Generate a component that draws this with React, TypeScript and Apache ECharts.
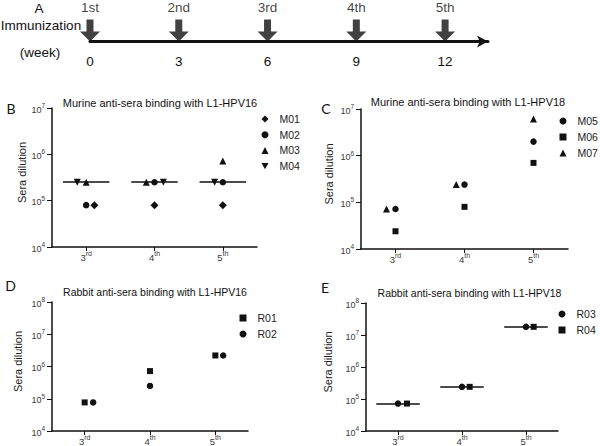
import React, { useEffect, useRef } from 'react';
import * as echarts from 'echarts';

// ---------- Panel A: immunization schedule ----------
const doses = ['1st', '2nd', '3rd', '4th', '5th'];
const weeks = [0, 3, 6, 9, 12];

// ---------- Boost categories (x axis of B-E) ----------
const boostBase = ['3', '4', '5'];
const boostSup = ['rd', 'th', 'th'];

// ---------- y-axis decades ----------
const decadesMurine = [1e4, 1e5, 1e6, 1e7];
const decadesRabbit = [1e4, 1e5, 1e6, 1e7, 1e8];

// ---------- Panel B: Murine anti-sera with L1-HPV16 ----------
const m01 = [8e4, 8e4, 8e4];
const m02 = [8e4, 2.5e5, 2.5e5];
const m03 = [2.5e5, 2.5e5, 7.2e5];
const m04 = [2.5e5, 2.5e5, 2.5e5];
const jitterM01 = [0.12, 0, 0];
const jitterM02 = [0, 0, 0];
const jitterM03 = [0, -0.12, 0];
const jitterM04 = [-0.13, 0.13, -0.12];
const medianB = [2.5e5, 2.5e5, 2.5e5];

// ---------- Panel C: Murine anti-sera with L1-HPV18 ----------
const m05 = [7.2e4, 2.4e5, 2.0e6];
const m06 = [2.4e4, 8e4, 7e5];
const m07 = [7.2e4, 2.4e5, 6.1e6];
const jitterM05 = [0, 0, 0];
const jitterM06 = [0, 0, 0];
const jitterM07 = [-0.13, -0.12, 0];

// ---------- Panel D: Rabbit anti-sera with L1-HPV16 ----------
const r01 = [7.7e4, 7.2e5, 2.2e6];
const r02 = [7.7e4, 2.5e5, 2.2e6];
const jitterR01 = [0, 0, 0];
const jitterR02 = [0.13, 0, 0.12];

// ---------- Panel E: Rabbit anti-sera with L1-HPV18 ----------
const r03 = [7.2e4, 2.4e5, 1.8e7];
const r04 = [7.2e4, 2.4e5, 1.8e7];
const jitterR03 = [0, 0, 0];
const jitterR04 = [0.14, 0.12, 0.12];
const medianE = [7.2e4, 2.4e5, 1.8e7];

const FONT = '"Liberation Sans", Arial, Helvetica, sans-serif';
const INK = '#111';
const GREY = '#3a3a3a';

const DOWN_TRI = 'path://M0,0 L10,0 L5,9 Z';
const ARROW = 'path://M6.5,0 L13.5,0 L13.5,12 L20,12 L10,22 L0,12 L6.5,12 Z';

type Def = { name: string; values: number[]; jitter: number[]; symbol: string; size: number };

const panelB: Def[] = [
  { name: 'M01', values: m01, jitter: jitterM01, symbol: 'diamond', size: 8 },
  { name: 'M02', values: m02, jitter: jitterM02, symbol: 'circle', size: 6.5 },
  { name: 'M03', values: m03, jitter: jitterM03, symbol: 'triangle', size: 7 },
  { name: 'M04', values: m04, jitter: jitterM04, symbol: DOWN_TRI, size: 7 },
];
const panelC: Def[] = [
  { name: 'M05', values: m05, jitter: jitterM05, symbol: 'circle', size: 6.5 },
  { name: 'M06', values: m06, jitter: jitterM06, symbol: 'rect', size: 6 },
  { name: 'M07', values: m07, jitter: jitterM07, symbol: 'triangle', size: 7 },
];
const panelD: Def[] = [
  { name: 'R01', values: r01, jitter: jitterR01, symbol: 'rect', size: 6 },
  { name: 'R02', values: r02, jitter: jitterR02, symbol: 'circle', size: 6.5 },
];
const panelE: Def[] = [
  { name: 'R03', values: r03, jitter: jitterR03, symbol: 'circle', size: 6.5 },
  { name: 'R04', values: r04, jitter: jitterR04, symbol: 'rect', size: 6 },
];

function scatterSeries(defs: Def[], axis: number, median?: number[]) {
  return defs.map((d, k) => {
    const s: any = {
      type: 'scatter',
      name: d.name,
      xAxisIndex: axis,
      yAxisIndex: axis,
      symbol: d.symbol,
      symbolSize: d.size,
      itemStyle: { color: INK, opacity: 1 },
      data: d.values.map((v, i) => [i + d.jitter[i], v]),
      z: 3,
    };
    if (k === 0 && median) {
      s.markLine = {
        silent: true,
        symbol: 'none',
        label: { show: false },
        lineStyle: { color: INK, width: 1.5, type: 'solid' },
        data: median.map((md, i) => [{ coord: [i - 0.34, md] }, { coord: [i + 0.34, md] }]),
      };
    }
    return s;
  });
}

const yRich = {
  b: { fontSize: 9, lineHeight: 12, color: GREY, fontFamily: FONT, verticalAlign: 'bottom' },
  s: { fontSize: 6.5, lineHeight: 7, color: GREY, fontFamily: FONT, verticalAlign: 'top' },
};
const xRich = {
  b: { fontSize: 9.5, lineHeight: 12, color: GREY, fontFamily: FONT, verticalAlign: 'bottom' },
  s: { fontSize: 7, lineHeight: 8, color: GREY, fontFamily: FONT, verticalAlign: 'top' },
};

function xAxisFor(grid: number) {
  return {
    type: 'value',
    gridIndex: grid,
    position: 'bottom',
    min: -0.5,
    max: 2.5,
    splitLine: { show: false },
    axisLine: { show: true, onZero: false, lineStyle: { color: INK, width: 1.5 } },
    axisTick: { show: true, customValues: [0, 1, 2], length: 4, lineStyle: { color: INK, width: 1 } },
    axisLabel: {
      customValues: [0, 1, 2],
      margin: 3,
      color: GREY,
      formatter: (v: number) => {
        const i = Math.round(v);
        return `{b|${boostBase[i]}}{s|${boostSup[i]}}`;
      },
      rich: xRich,
    },
  };
}

function yAxisFor(grid: number, decades: number[], nameGap: number) {
  return {
    type: 'log',
    logBase: 10,
    gridIndex: grid,
    position: 'left',
    min: decades[0],
    max: decades[decades.length - 1],
    name: 'Sera dilution',
    nameLocation: 'middle',
    nameGap,
    nameTextStyle: { fontSize: 11, color: '#222', fontFamily: FONT, padding: [0, 0, 0, 10] },
    splitLine: { show: false },
    minorTick: { show: false },
    axisLine: { show: true, onZero: false, lineStyle: { color: INK, width: 1.5 } },
    axisTick: { show: true, customValues: decades, length: 5, lineStyle: { color: INK, width: 1 } },
    axisLabel: {
      customValues: decades,
      margin: 7,
      color: GREY,
      formatter: (v: number) => `{b|10}{s|${Math.round(Math.log10(v))}}`,
      rich: yRich,
    },
  };
}

function legendFor(defs: Def[], left: number, top: number, gap: number) {
  return {
    data: defs.map((d) => d.name),
    orient: 'vertical',
    left,
    top,
    padding: 0,
    itemWidth: 7,
    itemHeight: 7,
    itemGap: gap,
    selectedMode: false,
    textStyle: { fontSize: 10.5, color: '#222', fontFamily: FONT, lineHeight: 12, padding: [0, 0, 0, 6] },
  };
}

function text(x: number, y: number, t: string, size: number, extra: any = {}) {
  return {
    type: 'text',
    x,
    y,
    silent: true,
    style: {
      text: t,
      fontSize: size,
      fontFamily: FONT,
      fill: '#111',
      align: 'center',
      verticalAlign: 'middle',
      ...extra,
    },
  };
}

const option: any = {
  animation: false,
  backgroundColor: '#fff',
  textStyle: { fontFamily: FONT },
  grid: [
    { left: 90, top: 0, width: 398, height: 41.5 },
    { left: 52, top: 108, width: 205, height: 139 },
    { left: 361, top: 109, width: 207, height: 140 },
    { left: 52, top: 302, width: 196, height: 131 },
    { left: 366, top: 303, width: 192, height: 130 },
  ],
  xAxis: [
    {
      type: 'value',
      gridIndex: 0,
      min: 0,
      max: 13.45,
      splitLine: { show: false },
      axisTick: { show: false },
      axisLine: {
        show: true,
        symbol: ['none', 'arrow'],
        symbolSize: [9, 11],
        lineStyle: { color: INK, width: 3 },
      },
      axisLabel: { customValues: weeks, margin: 13, fontSize: 13.5, color: INK, fontFamily: FONT },
    },
    xAxisFor(1),
    xAxisFor(2),
    xAxisFor(3),
    xAxisFor(4),
  ],
  yAxis: [
    { type: 'value', gridIndex: 0, min: 0, max: 1, show: false },
    yAxisFor(1, decadesMurine, 25),
    yAxisFor(2, decadesMurine, 27),
    yAxisFor(3, decadesRabbit, 29),
    yAxisFor(4, decadesRabbit, 33),
  ],
  legend: [
    legendFor(panelB, 261.5, 113, 3.7),
    legendFor(panelC, 559.5, 115, 4),
    legendFor(panelD, 239.5, 312, 4),
    legendFor(panelE, 558.5, 308, 4),
  ],
  graphic: [
    text(39, 8, 'A', 13.5),
    text(41, 25, 'Immunization', 13.5),
    text(40, 52, '(week)', 13.5),
    text(11, 108, 'B', 14, { fontFamily: 'Lato, ' + FONT }),
    text(326, 108, 'C', 14, { fontFamily: 'Lato, ' + FONT }),
    text(10.5, 285.5, 'D', 14, { fontFamily: 'Lato, ' + FONT }),
    text(325, 287, 'E', 14, { fontFamily: 'Lato, ' + FONT }),
    text(160, 103, 'Murine anti-sera binding with L1-HPV16', 11),
    text(468, 102, 'Murine anti-sera binding with L1-HPV18', 11),
    text(155, 292, 'Rabbit anti-sera binding with L1-HPV16', 10.5),
    text(469.5, 293, 'Rabbit anti-sera binding with L1-HPV18', 10.5),
  ],
  series: [
    {
      type: 'scatter',
      name: 'Immunization',
      xAxisIndex: 0,
      yAxisIndex: 0,
      symbol: ARROW,
      symbolSize: [20, 22],
      symbolOffset: [0, -11],
      clip: false,
      itemStyle: { color: INK },
      data: weeks.map((w) => [w, 0]),
      label: {
        show: true,
        position: 'top',
        distance: 5,
        formatter: (p: any) => doses[p.dataIndex],
        fontSize: 13.5,
        color: INK,
        fontFamily: FONT,
      },
    },
    ...scatterSeries(panelB, 1, medianB),
    ...scatterSeries(panelC, 2),
    ...scatterSeries(panelD, 3),
    ...scatterSeries(panelE, 4, medianE),
  ],
};

export default function App() {
  const ref = useRef<HTMLDivElement>(null);
  useEffect(() => {
    const chart = echarts.init(ref.current as HTMLDivElement, null, { renderer: 'svg' });
    chart.setOption(option);
    return () => chart.dispose();
  }, []);
  return (
    <div
      ref={ref}
      style={{ position: 'absolute', left: 0, top: 0, width: 600, height: 446, background: '#fff' }}
    />
  );
}
